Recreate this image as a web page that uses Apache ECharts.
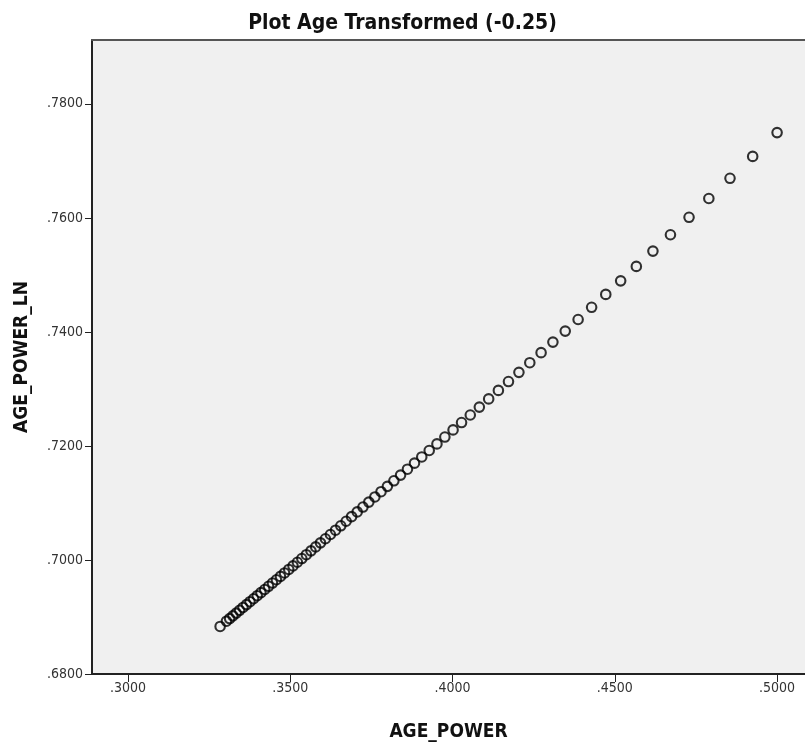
<!DOCTYPE html>
<html>
<head>
<meta charset="utf-8">
<title>Plot Age Transformed (-0.25)</title>
<script src="https://cdn.jsdelivr.net/npm/echarts@6/dist/echarts.min.js"></script>
<style>
  html, body { margin: 0; padding: 0; background: #ffffff; }
  #chart { width: 805px; height: 749px; }
</style>
</head>
<body>
<div id="chart"></div>
<script>
// Age raised to the -0.25 power (x) and ln(age) raised to the -0.25 power (y)
const agePower = [
  0.50000, 0.49248, 0.48549, 0.47897, 0.47287, 0.46714, 0.46174, 0.45663, 0.45180, 0.44721,
  0.44285, 0.43869, 0.43472, 0.43092, 0.42728, 0.42380, 0.42045, 0.41723, 0.41412, 0.41113,
  0.40825, 0.40546, 0.40277, 0.40016, 0.39763, 0.39519, 0.39281, 0.39051, 0.38827, 0.38610,
  0.38398, 0.38192, 0.37992, 0.37796, 0.37606, 0.37420, 0.37239, 0.37062, 0.36889, 0.36721,
  0.36556, 0.36394, 0.36236, 0.36082, 0.35930, 0.35782, 0.35637, 0.35495, 0.35355, 0.35218,
  0.35084, 0.34953, 0.34823, 0.34697, 0.34572, 0.34450, 0.34330, 0.34211, 0.34095, 0.33981,
  0.33868, 0.33758, 0.33649, 0.33542, 0.33437, 0.33333, 0.33231, 0.33131, 0.33032, 0.32838
];
const agePowerLn = [
  0.77496, 0.77078, 0.76694, 0.76340, 0.76010, 0.75704, 0.75417, 0.75149, 0.74896, 0.74658,
  0.74432, 0.74218, 0.74014, 0.73821, 0.73636, 0.73460, 0.73291, 0.73129, 0.72974, 0.72825,
  0.72681, 0.72543, 0.72410, 0.72281, 0.72156, 0.72036, 0.71920, 0.71807, 0.71698, 0.71592,
  0.71489, 0.71389, 0.71291, 0.71197, 0.71105, 0.71015, 0.70928, 0.70843, 0.70760, 0.70679,
  0.70599, 0.70522, 0.70447, 0.70372, 0.70300, 0.70229, 0.70160, 0.70092, 0.70025, 0.69960,
  0.69896, 0.69834, 0.69772, 0.69712, 0.69653, 0.69595, 0.69538, 0.69482, 0.69427, 0.69373,
  0.69320, 0.69268, 0.69217, 0.69167, 0.69117, 0.69068, 0.69020, 0.68972, 0.68926, 0.68834
];
const xTicks = [0.30, 0.35, 0.40, 0.45, 0.50];
const yTicks = [0.68, 0.70, 0.72, 0.74, 0.76, 0.78];

const points = agePower.map((x, i) => [x, agePowerLn[i]]);
const fmt = v => v.toFixed(4).replace(/^0/, '');
const condensed = '"Liberation Sans Narrow", "DejaVu Sans Condensed", "Liberation Sans", sans-serif';
const X_MIN = 0.2889, X_MAX = 0.5086;

const chart = echarts.init(document.getElementById('chart'), null, { renderer: 'canvas' });
chart.setOption({
  animation: false,
  backgroundColor: '#ffffff',
  title: {
    text: 'Plot Age Transformed (-0.25)',
    left: 'center',
    top: 8,
    textStyle: { fontFamily: condensed, fontSize: 21, fontWeight: 'bold', color: '#111' }
  },
  grid: {
    left: 92, top: 40, right: 0, bottom: 75,
    show: true, backgroundColor: '#f0f0f0', borderWidth: 0
  },
  xAxis: [{
    type: 'value',
    min: X_MIN, max: X_MAX,
    name: 'AGE_POWER', nameLocation: 'middle', nameGap: 49,
    nameTextStyle: { fontFamily: condensed, fontSize: 19, fontWeight: 'bold', color: '#111' },
    axisLine: { show: true, lineStyle: { color: '#222', width: 2 } },
    axisTick: { show: true, length: 8, customValues: xTicks, lineStyle: { color: '#222', width: 1 } },
    axisLabel: { customValues: xTicks, formatter: fmt, margin: 7,
      fontFamily: condensed, fontSize: 14, color: '#333' },
    splitLine: { show: false }
  }, {
    // frame line along the top of the plot area
    type: 'value', position: 'top',
    min: X_MIN, max: X_MAX,
    axisLine: { show: true, lineStyle: { color: '#555', width: 2 } },
    axisTick: { show: false }, axisLabel: { show: false }, splitLine: { show: false }
  }],
  yAxis: {
    type: 'value',
    min: 0.68, max: 0.7912,
    name: 'AGE_POWER_LN', nameLocation: 'middle', nameGap: 60,
    nameTextStyle: { fontFamily: condensed, fontSize: 19, fontWeight: 'bold', color: '#111' },
    axisLine: { show: true, lineStyle: { color: '#222', width: 2 } },
    axisTick: { show: true, length: 7, customValues: yTicks, lineStyle: { color: '#222', width: 1 } },
    axisLabel: { customValues: yTicks, formatter: fmt, margin: 9,
      fontFamily: condensed, fontSize: 14, color: '#333' },
    splitLine: { show: false }
  },
  series: [{
    type: 'scatter',
    data: points,
    symbol: 'circle',
    symbolSize: 9.5,
    itemStyle: { color: 'rgba(0,0,0,0)', borderColor: '#000', borderWidth: 2.1 }
  }]
});
</script>
</body>
</html>
